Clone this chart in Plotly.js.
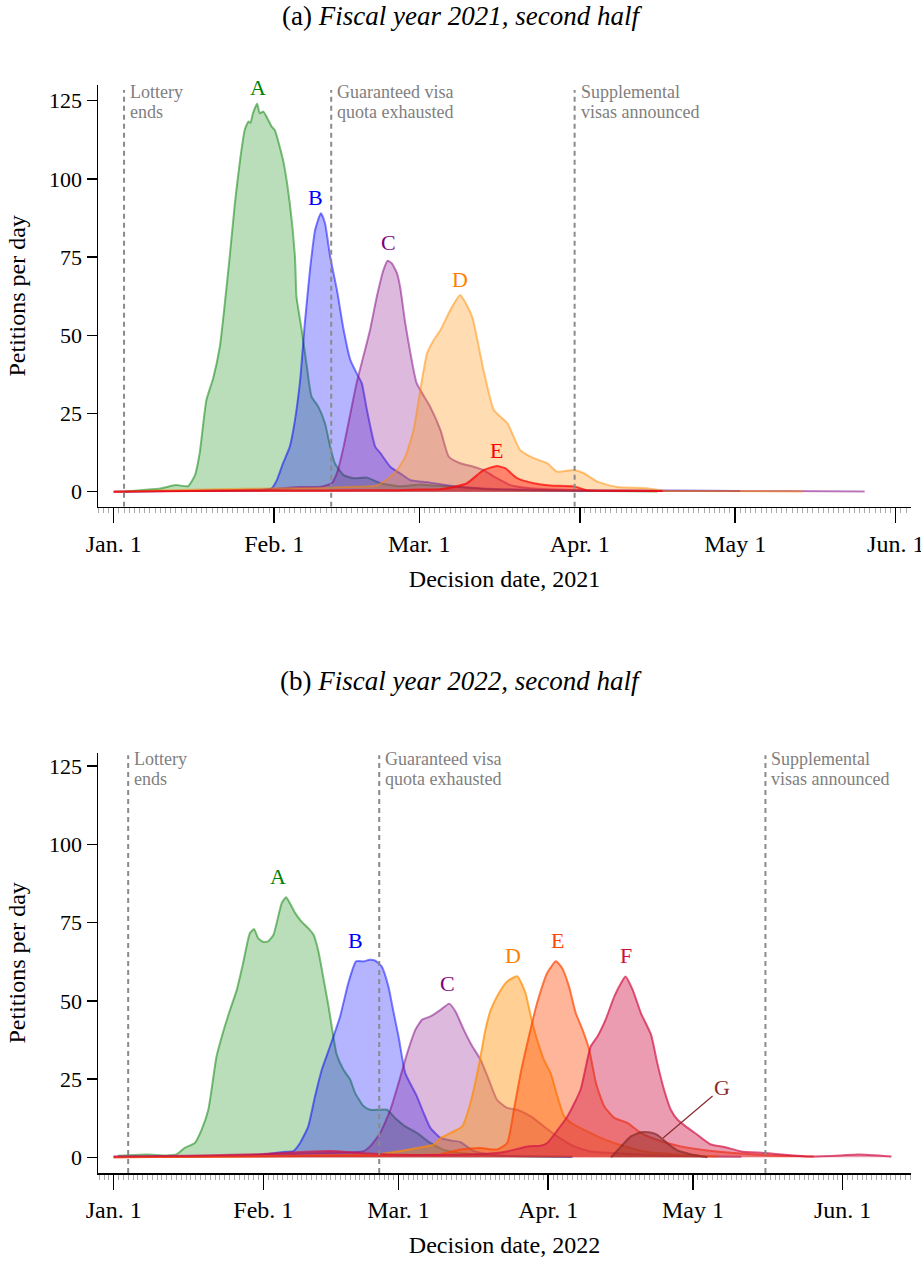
<!DOCTYPE html>
<html>
<head>
<meta charset="utf-8">
<script src="https://cdn.plot.ly/plotly-3.0.1.min.js"></script>
<style>html,body{margin:0;padding:0;background:#fff;}#chart{width:921px;height:1261px;}</style>
</head>
<body>
<div id="chart"></div>
<script>
// ---------- DATA (days since Jan. 1 of the year, petitions per day) ----------
// Fiscal year 2021, second half
const a21Days = [2,5,9,12,14.4,15.7,16.6,17.9,19.2,20.5,22.4,23.4,24.4,25.3,26,26.4,26.9,27.7,28.2,28.9,29.5,30.5,31.1,32.7,34,35,35.3,36.3,37.3,38.2,39.5,40.8,41.8,42.7,44.4,46.3,48.9,51.5,55.3,59.2,61.8,66.9,72,80,90,105];
const a21Vals = [0,0.5,1.0,2.1,1.8,5.3,12.3,29.3,36.2,46.4,75.1,92.2,106,115.6,118.3,117.9,121,124,121,121.5,119.9,116.7,115.6,106,92.2,75.1,62.3,51.7,40,30.4,27.2,21.9,14.4,9.1,5.3,4.3,4.5,2.7,1.7,2.3,2.0,1.5,0.8,0.5,0.3,0.1];
const b21Days = [0,10,20,28,30.5,31.5,32.7,34,35,36,36.9,37.9,38.9,40,40.8,41.8,43.1,44.4,45.7,46.9,47.9,48.9,50.5,51.5,53.4,55.3,57.3,61.1,66.9,75,90,110,121];
const b21Vals = [0,0.2,0.3,0.5,1.1,3.7,9.1,14.4,22.9,35.7,53.8,70.9,83.7,89,85.8,75.1,64.5,51.7,42.1,37.9,34.7,26.1,14.4,12.3,8,5.9,3.7,2.9,1.5,0.8,0.4,0.3,0.2];
const c21Days = [0,15,30,36,40,42.1,43.1,44.4,45.7,46.9,48.2,49.5,50.8,52.1,52.9,53.7,54.7,55.3,56.3,57.3,58.5,61.1,63.1,64.7,66.9,69.5,71.4,74,76.6,80.5,90,110,130,145];
const c21Vals = [0,0.3,0.8,1.5,1.6,2.7,5.9,14.4,25,34.7,43.2,51.7,62.3,70.9,73.8,73,69.8,65.5,53.8,44.2,34.7,27.2,19.7,11.2,9.1,8,6.9,4.3,2.1,1.1,0.5,0.3,0.2,0.1];
const d21Days = [0,10,20,30,40,45,50.8,53,54.7,56.3,57.9,59.2,60.5,61.8,63.1,65,66.9,69.2,71.4,73.4,76,78.5,81.1,83.7,85.6,88.8,90.8,93.4,97.2,103,106.3,115,133];
const d21Vals = [0,0.5,0.8,1.0,1.2,1.5,2.0,4.3,6.9,11.2,19.7,32.5,44.2,48.5,51.7,58.1,62.9,56,38.9,26.1,21.9,13.3,10.7,9.1,6.4,6.9,5.9,3.2,1.5,1.1,0.3,0.2,0.1];
const e21Days = [0,20,40,55,60,63,65.6,68.2,71.4,74,75.6,77.9,81.1,84.3,88.8,91.4,100,106];
const e21Vals = [0,0.3,0.4,0.5,0.7,0.8,1.5,2.7,6.9,8.2,7.5,4.3,2.7,2.0,1.7,0.5,0.3,0.2];

// Fiscal year 2022, second half
const a22Days = [0.9,6.8,10.9,13,14.7,16.8,18.2,19.6,21.3,22.7,24.1,25.5,26.8,28.2,29.1,29.9,31,32,33.1,34.8,35.7,36.5,37.6,38.9,40.3,41.4,42.4,43.5,44.5,45.5,46.2,47.6,49,50,51.8,53.1,54.9,56.6,58.3,60.4,62.8,65.6,68.4,71.8,80,95];
const a22Vals = [0.5,0.9,0.6,0.9,3,4.6,8.8,15.2,32.2,40.2,47.1,53.5,62,71.6,72.9,70,68.8,69,71.1,81.2,83.1,81.2,78,75.3,73.2,71.1,65.8,56.7,48.2,38.6,32.8,28,24.8,20.6,16.3,15.2,15.2,15.2,12.6,9.9,7.8,4.6,2.4,1.4,0.5,0.2];
const b22Days = [0,15,24,31,35.1,37.2,38.6,40.3,41.7,43.1,44.8,46.9,48.6,50.2,51.8,53,54.2,55.5,56.9,58,59,60.4,62.8,64.2,65.6,67.7,69.8,71.8,74.6,80,95];
const b22Vals = [0.2,0.3,0.5,0.9,1.7,2,4.6,9.9,19.5,28,35.4,45,55.7,62.6,62.6,63.1,62.8,61,54.6,46.1,38.6,26.9,19.5,14.2,9.4,6.2,5.4,4.9,2,0.6,0.2];
const c22Days = [0,20,35,45,51.8,53.1,55.2,57.3,59,60.8,62.5,63.9,65.6,67.7,69.5,70.8,72.5,74.3,76,77.7,79.4,81.5,83.6,86.4,89.1,91.9,95.4,98.8,103.6,115,130];
const c22Vals = [0,0.4,1,1.5,2,3.5,7.8,15.2,23.7,33.3,40.8,44,45,47.1,49.1,46.6,40.8,35.4,31.2,24.8,18.4,15.8,15.2,13.1,9.9,6.7,3.5,1.9,1.4,0.5,0.2];
const d22Days = [0,20,40,55,59.4,62.8,66.3,67.7,69.8,72.2,73.9,75.6,77,78.1,79.8,81.5,83.6,85.3,86.4,87.7,89.1,90.5,91.9,93.3,95.4,98.1,100.9,103.7,107.1,110.6,116,125];
const d22Vals = [0,0.3,0.6,1,2,3,4.1,6.2,7.8,9.9,17.4,29,40.8,47.1,52.5,56.2,57.8,52.5,45,37.6,31.2,26.9,19.5,13.1,10.4,8.3,6.2,4.6,3,1.7,1,0.3];
const e22Days = [0,30,50,60,67.7,71.8,76,79.4,81.5,82.9,84.3,86,87.7,89.8,91.6,92.9,94.3,95.7,97.1,98.5,99.9,101.6,103.7,106.4,109.2,113.3,117.5,123,130,135.5,145];
const e22Vals = [0,0.3,0.5,0.7,1,2.5,3,2.5,4.6,15.2,26.9,38.6,49.3,58.9,62.6,60.4,54.6,46.1,40.8,34.4,23.7,16.3,12.6,11,7.8,5.2,3.5,2.2,1.2,0.7,0.3];
const f22Days = [0,15,30,40,45,50,60,70,78,81.5,85.7,88.4,89.8,91.5,94,96.7,98.8,100.2,101.9,103.7,105.1,106,107.5,109.2,111.3,112.6,114,115.4,116.8,118.9,120.9,123.7,126.5,130,134.8,143.8,150.7,154.2,161.1];
const f22Vals = [0.3,0.5,1,1.8,2,1.5,0.8,0.8,1.2,1.9,3.5,3.7,4.6,7.8,13.1,21.6,35.4,38.6,44,51.4,55.7,57.8,53.5,46.1,39.2,30.1,21.6,15.2,12,9.4,7.2,4.1,3.3,1.9,1.4,0.3,0.6,0.9,0.3];
const g22Days = [103,105.1,107.1,109.2,110.9,112.6,114.6,116.8,119.5,123];
const g22Vals = [0,3.5,6.7,8,8,7.2,4.6,2.2,1,0];

// Event markers
const eventLabels = [["Lottery","ends"],["Guaranteed visa","quota exhausted"],["Supplemental","visas announced"]];
const events2021 = ["2021-01-03","2021-02-12","2021-03-31"];
const events2022 = ["2022-01-04","2022-02-25","2022-05-16"];

// Ticks
const tickText = ["Jan. 1","Feb. 1","Mar. 1","Apr. 1","May 1","Jun. 1"];
const tickMonths = [1,2,3,4,5,6];
const yTicks = [0,25,50,75,100,125];

// Series labels: [letter, day, value]
const labels2021 = [["A",27.9,129.1],["B",39.0,94.1],["C",53.0,79.8],["D",66.9,67.9],["E",73.9,13.1]];
const labels2022 = [["A",34.0,89.8],["B",50.0,69.4],["C",69.1,55.6],["D",82.8,64.5],["E",92.0,69.4],["F",106.1,64.5]];

// ---------- STYLE ----------
const FONT = "Liberation Serif, Times New Roman, serif";
const DAY = 86400000;
function toDate(year, d) {
  return new Date(Date.UTC(year, 0, 1) + d * DAY).toISOString().slice(0, 19).replace("T", " ");
}
function rgba(c, a) { return "rgba(" + c.join(",") + "," + a + ")"; }

const series2021 = [
  {days:a21Days, vals:a21Vals, col:[0,128,0], la:0.5, fa:0.27, text:"#008000"},
  {days:b21Days, vals:b21Vals, col:[0,0,255], la:0.5, fa:0.29, text:"#0000ff"},
  {days:c21Days, vals:c21Vals, col:[128,0,128], la:0.5, fa:0.27, text:"#800080"},
  {days:d21Days, vals:d21Vals, col:[255,140,0], la:0.5, fa:0.30, text:"#ff8000"},
  {days:e21Days, vals:e21Vals, col:[255,0,0], la:0.7, fa:0.40, text:"#ff0000"}
];
const series2022 = [
  {days:a22Days, vals:a22Vals, col:[0,128,0], la:0.5, fa:0.27, text:"#008000"},
  {days:b22Days, vals:b22Vals, col:[0,0,255], la:0.5, fa:0.29, text:"#0000ff"},
  {days:c22Days, vals:c22Vals, col:[128,0,128], la:0.5, fa:0.27, text:"#800080"},
  {days:d22Days, vals:d22Vals, col:[255,140,0], la:0.7, fa:0.42, text:"#ff8000"},
  {days:e22Days, vals:e22Vals, col:[255,69,0], la:0.7, fa:0.40, text:"#ff4500"},
  {days:f22Days, vals:f22Vals, col:[210,20,70], la:0.7, fa:0.42, text:"#cc1040"},
  {days:g22Days, vals:g22Vals, col:[140,40,40], la:0.7, fa:0.45, text:"#8b2b2b"}
];

const traces = [];
function addSeries(list, year, xa, ya) {
  list.forEach(s => {
    traces.push({
      type: "scatter", mode: "lines", xaxis: xa, yaxis: ya,
      x: s.days.map(d => toDate(year, d)), y: s.vals,
      fill: "tozeroy", fillcolor: rgba(s.col, s.fa),
      line: {color: rgba(s.col, s.la), width: 2, shape: "spline", smoothing: 0.5},
      hoverinfo: "skip", showlegend: false
    });
  });
}
addSeries(series2021, 2021, "x", "y");
addSeries(series2022, 2022, "x2", "y2");

const Y1 = [-4.8, 130.0], Y2 = [-5.0, 129.25];

const shapes = [], annotations = [];
function addEvents(dates, xr, yr, ylo, yTop, shift) {
  dates.forEach((dt, i) => {
    shapes.push({type:"line", xref:xr, yref:yr, x0:dt, x1:dt, y0:ylo, y1:128.4,
      line:{color:"#8a8a8a", width:2, dash:"5px,4px"}});
    eventLabels[i].forEach((t, k) => {
      annotations.push({xref:xr, yref:yr, x:dt, y:yTop, xanchor:"left", yanchor:"top",
        xshift:5, yshift:shift - 20*k, text:t, showarrow:false, borderpad:0,
        font:{family:FONT, size:18, color:"#808080"}});
    });
  });
}
addEvents(events2021, "x", "y", Y1[0], 129.8, 4.5);
addEvents(events2022, "x2", "y2", Y2[0], 129.1, 5.5);

function addLabels(labs, list, year, xr, yr) {
  labs.forEach((l, i) => {
    annotations.push({xref:xr, yref:yr, x:toDate(year, l[1]), y:l[2], text:l[0], showarrow:false,
      font:{family:FONT, size:22, color:list[i].text}});
  });
}
addLabels(labels2021, series2021, 2021, "x", "y");
addLabels(labels2022, series2022, 2022, "x2", "y2");
// G label with leader line
annotations.push({xref:"x2", yref:"y2", x:toDate(2022, 113.8), y:6.2, text:"G",
  showarrow:true, arrowhead:0, arrowwidth:1.2, arrowcolor:"#8b2b2b", ax:59, ay:-50, standoff:0,
  font:{family:FONT, size:22, color:"#8b2b2b"}});
// subplot (b) title
annotations.push({xref:"paper", yref:"paper", x:0.4459, y:0.4522, xanchor:"center", yanchor:"middle",
  text:"(b) <i>Fiscal year 2022, second half</i>", showarrow:false,
  font:{family:FONT, size:27, color:"#000"}});

function xAxis(year, rangeDays, anchor) {
  return {
    anchor: anchor, domain: [0, 1], type: "date",
    range: [toDate(year, rangeDays[0]), toDate(year, rangeDays[1])],
    tickvals: tickMonths.map(m => toDate(year, (Date.UTC(year, m-1, 1) - Date.UTC(year,0,1)) / DAY)),
    ticktext: tickText,
    ticks: "outside", ticklen: 15, tickwidth: 1.5, tickcolor: "#000",
    ticklabeloverflow: "allow",
    showline: true, linecolor: "#000", linewidth: 1.5, showgrid: false, zeroline: false,
    minor: {dtick: DAY, tick0: toDate(year, 0), ticks: "outside", ticklen: 5, tickwidth: 1, tickcolor: "#aaaaaa", showgrid: false},
    tickfont: {family: FONT, size: 24, color: "#000"},
    title: {text: "Decision date, " + year, font: {family: FONT, size: 24, color: "#000"}, standoff: 14},
    fixedrange: true
  };
}
function yAxis(range, domain, anchor) {
  return {
    anchor: anchor, domain: domain, range: range,
    tickvals: yTicks, ticks: "outside", ticklen: 10, tickwidth: 1.5, tickcolor: "#000",
    showline: true, linecolor: "#000", linewidth: 1.5, showgrid: false, zeroline: false,
    tickfont: {family: FONT, size: 22, color: "#000"},
    title: {text: "Petitions per day", font: {family: FONT, size: 24, color: "#000"}, standoff: 16},
    fixedrange: true
  };
}

const layout = {
  width: 921, height: 1261,
  margin: {l: 98, r: 10, t: 85, b: 88},
  paper_bgcolor: "#fff", plot_bgcolor: "#fff",
  font: {family: FONT, color: "#000"},
  title: {text: "(a) <i>Fiscal year 2021, second half</i>", x: 0.5, xref: "container", xanchor: "center",
    y: 0.988, yref: "container", yanchor: "middle", font: {family: FONT, size: 27, color: "#000"}},
  xaxis: xAxis(2021, [-3.03, 153.95], "y"),
  yaxis: yAxis(Y1, [0.6124, 1], "x"),
  xaxis2: xAxis(2022, [-3.25, 165.15], "y2"),
  yaxis2: yAxis(Y2, [0, 0.3863], "x2"),
  shapes: shapes,
  annotations: annotations,
  showlegend: false
};

Plotly.newPlot("chart", traces, layout, {staticPlot: true, displayModeBar: false});
</script>
</body>
</html>
